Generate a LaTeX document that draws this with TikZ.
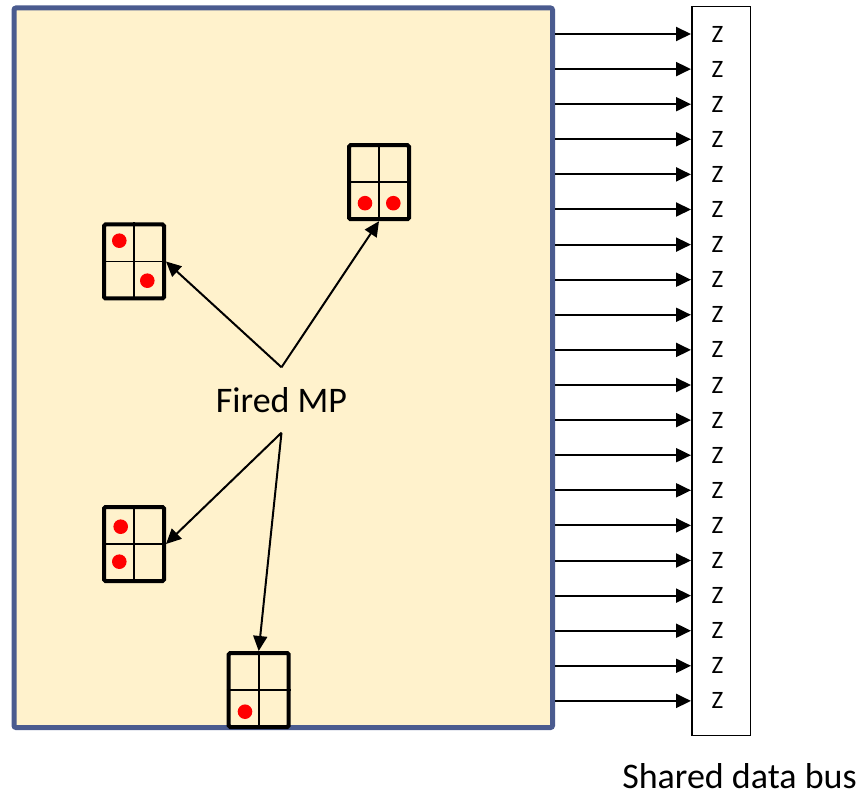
\documentclass[tikz,border=0pt]{standalone}
\usepackage{fontspec}
\setmainfont{Carlito}
\usetikzlibrary{arrows.meta}
\definecolor{panelfill}{HTML}{FFF2CC}
\definecolor{panelline}{HTML}{4A5B8F}
\definecolor{dotred}{HTML}{FF0000}
\begin{document}
\begin{tikzpicture}[x=1pt,y=-1pt,
  panel/.style={draw=panelline, line width=5pt, fill=panelfill, rounded corners=2pt,
    minimum width=538.5pt, minimum height=719.5pt, inner sep=0pt},
  cellbox/.style={draw, line width=4pt, fill=panelfill, rounded corners=1.5pt,
    minimum width=60pt, minimum height=74pt, inner sep=0pt},
  divider/.style={line width=1.6pt},
  dot/.style={fill=dotred},
  busbox/.style={draw, line width=1.5pt, fill=white, minimum width=58.5pt,
    minimum height=728.5pt, inner sep=0pt},
  zlabel/.style={font=\fontsize{25}{30}\selectfont, inner sep=0pt},
  bigtext/.style={font=\fontsize{36}{43}\selectfont, inner sep=0pt},
  link/.style={line width=2pt, -{Triangle[length=15pt,width=14pt]}},
]
\useasboundingbox (0,0) rectangle (865,791);

% core area
\node[panel] (panel) at (283.25,367.75) {};

% shared bus column
\node[busbox] (bus) at (721,371) {};

% 2x2 cell groups
\node[cellbox] (b1) at (134,261.5) {};
\node[cellbox] (b2) at (379,182.2) {};
\node[cellbox] (b3) at (134,544) {};
\node[cellbox] (b4) at (258.7,690) {};
\foreach \b in {b1,b2,b3,b4}{
  \draw[divider] (\b.north) -- (\b.south);
  \draw[divider] (\b.west) -- (\b.east);
}

% active cells
\fill[dot] (b1.center) ++(-14.7,-20.8) circle[radius=7.3pt];
\fill[dot] (b1.center) ++(13.3,19.2) circle[radius=7.3pt];
\fill[dot] (b2.center) ++(-14,21) circle[radius=7.3pt];
\fill[dot] (b2.center) ++(14.3,21) circle[radius=7.3pt];
\fill[dot] (b3.center) ++(-13.3,-17.3) circle[radius=7.3pt];
\fill[dot] (b3.center) ++(-14.7,17.7) circle[radius=7.3pt];
\fill[dot] (b4.center) ++(-13.7,21.7) circle[radius=7.3pt];

% label and its links
\node[bigtext, minimum height=65pt] (fired) at (281.5,400) {Fired MP};
\draw[link] (fired.north) -- (b1.east);
\draw[link] (fired.north) -- (b2.south);
\draw[link] (fired.south) -- (b3.east);
\draw[link] (fired.south) -- (b4.north);

% bus lines
\foreach \i in {1,...,20}{
  \node[zlabel] (z\i) at (717.5,{34+(\i-1)*35.1}) {Z};
  \draw[link] (panel.east |- z\i) -- (bus.west |- z\i);
}

\node[bigtext] (buscap) at (739.5,776) {Shared data bus};
\end{tikzpicture}
\end{document}
